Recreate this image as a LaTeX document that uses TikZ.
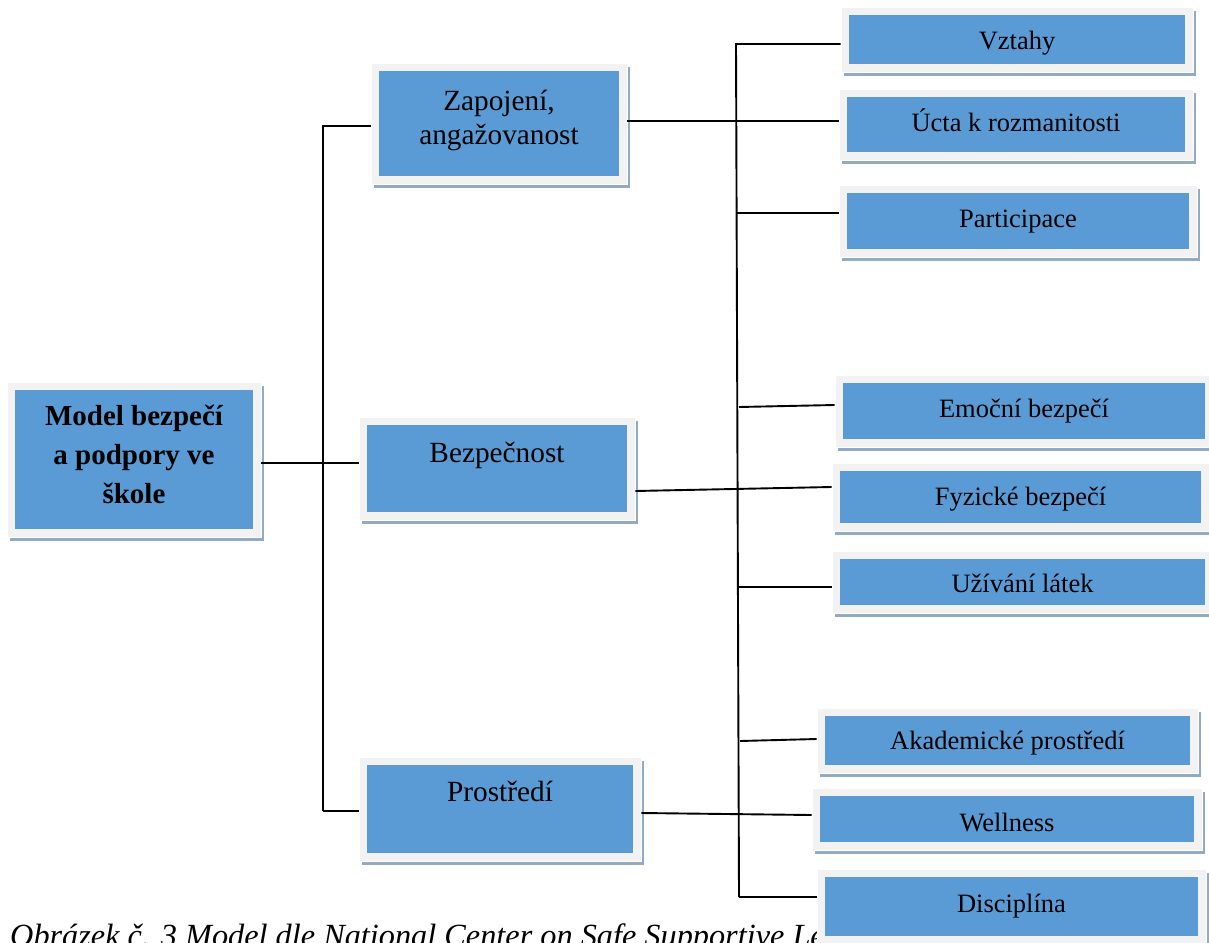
\documentclass[tikz,border=0pt]{standalone}
\usepackage{fontspec}
\setmainfont{Liberation Serif}
\usetikzlibrary{fit}

\definecolor{facefill}{HTML}{5B9BD5}
\definecolor{framefill}{HTML}{F2F2F2}
\definecolor{shadefill}{HTML}{93AAC4}

\tikzset{
  frame/.style={fill=framefill, draw=white, line width=0.8pt, inner sep=0pt},
  face/.style={fill=facefill, draw=none, inner sep=0pt},
  shade/.style={fill=shadefill},
  wire/.style={draw=black, line width=1.9pt},
  rootlbl/.style={font=\bfseries\fontsize{29}{38}\selectfont, anchor=base, inner sep=0pt},
  midlbl/.style={font=\fontsize{29.3}{35}\selectfont, anchor=base, inner sep=0pt},
  leaflbl/.style={font=\fontsize{26.5}{30}\selectfont, anchor=base, inner sep=0pt},
  caplbl/.style={font=\itshape\fontsize{32.3}{36}\selectfont, anchor=base west, inner sep=0pt},
}

% #1 name, (#2,#3) top-left and (#4,#5) bottom-right corner of the grey frame
\newcommand\panel[5]{%
  \fill[shade] ({#2+3},{#3+4}) rectangle ({#4+3},{#5+4});
  \node[frame, fit={(#2,#3) (#4,#5)}] (#1) {};
  \node[face, fit={({#2+8},{#3+8}) ({#4-8},{#5-8})}] (#1-face) {};
}

\begin{document}
\begin{tikzpicture}[x=1pt, y=-1pt]
\useasboundingbox (0,0) rectangle (1209,942);
\clip (0,0) rectangle (1209,942);

% figure caption, partly covered by the last box
\node[caplbl] (cap) at (10,946) {Obrázek č. 3 Model dle National Center on Safe Supportive Le};

% root
\panel{m}{7}{382}{261}{537}
\node[rootlbl] (m-1) at (m-face |- 0,425) {Model bezpečí};
\node[rootlbl] (m-2) at (m-face |- 0,464) {a podpory ve};
\node[rootlbl] (m-3) at (m-face |- 0,503) {škole};

% second level
\panel{z}{371}{63}{627}{184}
\node[midlbl] (z-1) at (z-face |- 0,110) {Zapojení,};
\node[midlbl] (z-2) at (z-face |- 0,144) {angažovanost};

\panel{b}{359}{417}{635}{520}
\node[midlbl] (b-1) at (b-face |- 0,462) {Bezpečnost};

\panel{p}{359}{757}{641}{861}
\node[midlbl] (p-1) at (p-face |- 0,801) {Prostředí};

% third level
\panel{v}{841}{7}{1193}{72}
\node[leaflbl] (v-1) at (v-face |- 0,49) {Vztahy};

\panel{u}{839}{89}{1193}{160}
\node[leaflbl] (u-1) at (u-face |- 0,131) {Úcta k rozmanitosti};

\panel{pa}{839}{185}{1197}{257}
\node[leaflbl] (pa-1) at (pa-face |- 0,227) {Participace};

\panel{e}{835}{375}{1213}{447}
\node[leaflbl] (e-1) at (e-face |- 0,417) {Emoční bezpečí};

\panel{f}{832}{463}{1209}{531}
\node[leaflbl] (f-1) at (f-face |- 0,505) {Fyzické bezpečí};

\panel{l}{832}{551}{1213}{613}
\node[leaflbl] (l-1) at (l-face |- 0,592) {Užívání látek};

\panel{a}{817}{708}{1198}{773}
\node[leaflbl] (a-1) at (a-face |- 0,749) {Akademické prostředí};

\panel{w}{812}{788}{1202}{850}
\node[leaflbl] (w-1) at (w-face |- 0,831) {Wellness};

\panel{d}{817}{869}{1206}{944}
\node[leaflbl] (d-1) at (d-face |- 0,912) {Disciplína};

% connectors, left trunk
\coordinate (lt) at (323,126);
\coordinate (lb) at (323,811);
\coordinate (mb) at (0,463);
\draw[wire] (lb) -- (lt) -- (lt -| z.west);
\draw[wire] (lb) -- (lb -| p.west);
\draw[wire] (mb -| m.east) -- (mb -| b.west);

% connectors, right trunk
\coordinate (rt) at (736,44);
\coordinate (rb) at (739,897);
\draw[wire] (rb) -- (rt) -- (rt -| v.west);
\coordinate (zu) at (0,121);
\draw[wire] (zu -| z.east) -- (zu -| u.west);
\coordinate (tp) at (737,213);
\draw[wire] (tp) -- (tp -| pa.west);
\coordinate (te) at (739,407);
\coordinate (he) at (0,405);
\draw[wire] (te) -- (he -| e.west);
\coordinate (bf1) at (0,491);
\coordinate (bf2) at (0,487);
\draw[wire] (bf1 -| b.east) -- (bf2 -| f.west);
\coordinate (tl) at (739,587);
\draw[wire] (tl) -- (tl -| l.west);
\coordinate (ta) at (740,741);
\coordinate (ha) at (0,739);
\draw[wire] (ta) -- (ha -| a.west);
\coordinate (pw1) at (0,813);
\coordinate (pw2) at (0,815);
\draw[wire] (pw1 -| p.east) -- (pw2 -| w.west);
\draw[wire] (rb) -- (rb -| d.west);
\end{tikzpicture}
\end{document}
